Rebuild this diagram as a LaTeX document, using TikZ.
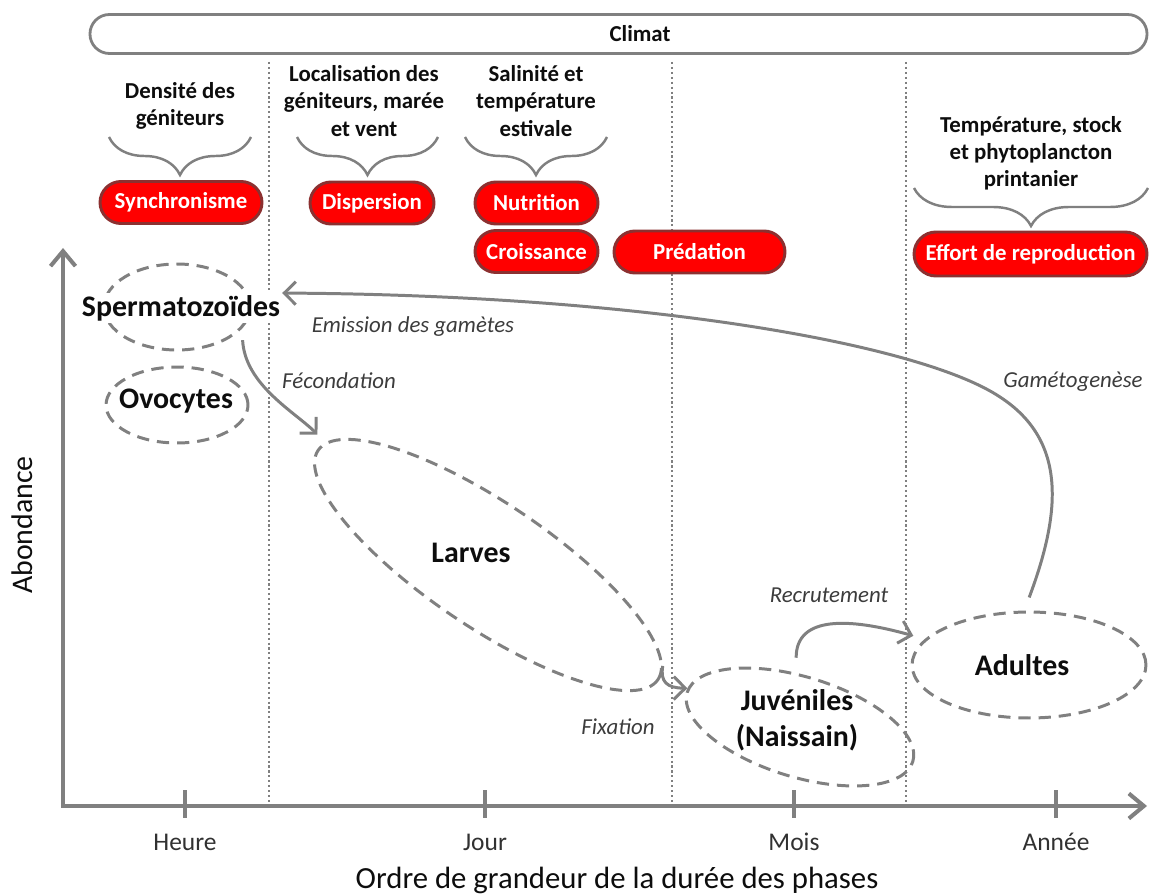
\documentclass[tikz,border=0pt]{standalone}
\usepackage{fontspec}
\setmainfont{Carlito}
\usetikzlibrary{shapes.geometric, shapes.misc, arrows.meta, positioning, decorations.pathreplacing}

\definecolor{trait}{RGB}{128,128,128}
\definecolor{rouge}{RGB}{255,0,0}
\definecolor{bordrouge}{RGB}{140,48,48}
\definecolor{texte}{RGB}{13,13,13}
\definecolor{texteit}{RGB}{60,60,60}

\tikzset{
  facteur/.style={rounded rectangle, fill=rouge, draw=bordrouge, line width=1.7pt, text=white,
    font=\bfseries\fontsize{13}{15}\selectfont, minimum height=0.84cm, inner xsep=2pt},
  influence/.style={align=center, text=texte, font=\bfseries\fontsize{13}{15.5}\selectfont},
  accolade/.style={draw=trait, line width=1.4pt, decorate, decoration={brace, amplitude=0.76cm}},
  stade/.style={ellipse, draw=trait, line width=1.7pt, dash pattern=on 7pt off 4.5pt, inner sep=0pt},
  nomstade/.style={text=texte, font=\bfseries\fontsize{17}{20.4}\selectfont, align=center},
  flux/.style={draw=trait, line width=1.7pt, -{Straight Barb[length=0.23cm,width=0.46cm]}},
  fluxlbl/.style={text=texteit, font=\itshape\fontsize{13}{15}\selectfont},
  separation/.style={draw=trait, line width=1.2pt, dash pattern=on 1.2pt off 1.6pt},
  axe/.style={draw=trait, line width=2.3pt},
  echelle/.style={text=texte!85, font=\fontsize{14.5}{17}\selectfont},
}

\begin{document}
\begin{tikzpicture}[x=0.02cm, y=-0.02cm]
  \useasboundingbox (0,0) rectangle (1149,895);
  % climat
  \node[draw=trait, line width=1.6pt, rounded rectangle, minimum width=21.38cm, minimum height=0.78cm] (climat) at (618.5,34) {};
  \node[influence] (climatlbl) at (640,34) {Climat};
  % separations between phases
  \foreach \x in {269,672,906}
    \draw[separation] (\x,62) -- (\x,804);
  % axes
  \coordinate (origine) at (63,806);
  \draw[axe, line join=miter, {Straight Barb[length=0.3cm,width=0.5cm]}-{Straight Barb[length=0.3cm,width=0.5cm]}] (63,248) -- (origine) -- (1147,806);
  \foreach \x/\nom in {185/Heure, 485/Jour, 794/Mois, 1056/Année} {
    \draw[axe] (\x,790) -- (\x,818);
    \node[echelle] at (\x,842) {\nom};
  }
  \node[text=texte, font=\fontsize{17.5}{20}\selectfont] (xlbl) at (617,880) {Ordre de grandeur de la durée des phases};
  \node[text=texte, rotate=90, font=\fontsize{17}{20}\selectfont] (ylbl) at (22,525) {Abondance};
  % factors
  \node[influence] (densite) at (180,106) {Densité des\\géniteurs};
  \draw[accolade] (251,137) -- (109,137);
  \node[facteur, minimum width=3.38cm] (synchro) at (181,202.5) {Synchronisme};
  \node[influence] (localisation) at (364,101) {Localisation des\\géniteurs, marée\\et vent};
  \draw[accolade] (438,137) -- (297,137);
  \node[facteur, minimum width=2.62cm] (dispersion) at (372,203) {Dispersion};
  \node[influence] (salinite) at (536,101) {Salinité et\\température\\estivale};
  \draw[accolade] (607,137) -- (465,137);
  \node[facteur, minimum width=2.6cm] (nutrition) at (536.5,203) {Nutrition};
  \node[facteur, minimum width=2.6cm] (croissance) at (536.5,251.5) {Croissance};
  \node[facteur, minimum width=3.56cm] (predation) at (699.5,252) {Prédation};
  \node[influence] (temperature) at (1031,153.5) {Température, stock\\et phytoplancton\\printanier};
  \draw[accolade] (1148,188) -- (914,188);
  \node[facteur, minimum width=4.8cm, minimum height=0.88cm] (effort) at (1030.5,254) {Effort de reproduction};
  % life stages
  \node[stade, minimum width=2.92cm, minimum height=1.72cm] (spermE) at (177,307) {};
  \node[nomstade, fill=white, inner sep=1pt] (sperm) at (181,308) {Spermatozoïdes};
  \node[stade, minimum width=2.84cm, minimum height=1.52cm] (ovo) at (177,405) {};
  \node[nomstade] (ovolbl) at (176,401) {Ovocytes};
  \node[stade, minimum width=8.2cm, minimum height=2.48cm, rotate=-34] (larv) at (488,565) {};
  \node[nomstade] (larvlbl) at (471,553) {Larves};
  \node[stade, minimum width=4.72cm, minimum height=2cm, rotate=-17] (juv) at (800,727) {};
  \node[nomstade] (juvlbl) at (797,720) {Juvéniles\\(Naissain)};
  \node[stade, minimum width=4.68cm, minimum height=2.12cm] (adul) at (1029,665) {};
  \node[nomstade] (adullbl) at (1022,665) {Adultes};
  % emission des gametes
  \draw[flux, shorten <=0.28cm] (adul.95) .. controls (1062,510) and (1066,440) .. (1000,397)
    .. controls (922,345) and (650,295) .. (sperm.north east);
  \node[fluxlbl] (emission) at (413,327) {Emission des gamètes};
  \node[fluxlbl] (gameto) at (1073,382) {Gamétogenèse};
  % fecondation
  \draw[flux, shorten >=0.22cm] ([shift={(2,10)}]spermE.-20) .. controls (245,385) and (295,412) .. (larv.177);
  \node[fluxlbl] (fecond) at (339,381) {Fécondation};
  % fixation
  \draw[flux] (larv.4) .. controls (660,682) and (667,688) .. (juv.178);
  \node[fluxlbl] (fixation) at (618,727) {Fixation};
  % recrutement
  \draw[flux, shorten <=0.3cm, shorten >=0.24cm] (juv.111) .. controls (796,615) and (850,618) .. (adul.166);
  \node[fluxlbl] (recrut) at (829,595) {Recrutement};
\end{tikzpicture}
\end{document}
